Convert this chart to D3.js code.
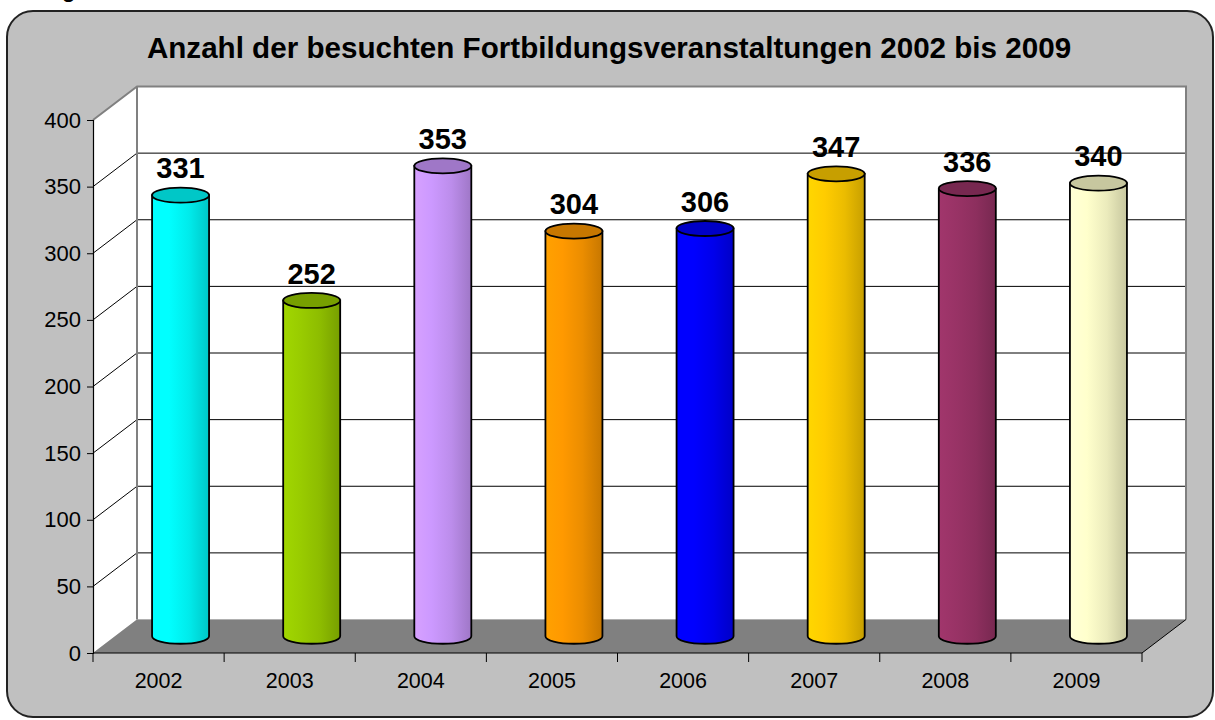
<!DOCTYPE html>
<html><head><meta charset="utf-8">
<script src="https://cdn.jsdelivr.net/npm/d3@7"></script>
<style>html,body{margin:0;padding:0;background:#fff;}svg{display:block;font-family:"Liberation Sans",Arial,sans-serif;}</style>
</head><body>
<svg id="c" width="1215" height="720"></svg>
<script>
const title = "Anzahl der besuchten Fortbildungsveranstaltungen 2002 bis 2009";
const years = ["2002","2003","2004","2005","2006","2007","2008","2009"];
const counts = [331,252,353,304,306,347,336,340];
const yTicks = [0,50,100,150,200,250,300,350,400];
const barColors = ["#00ffff","#99cc00","#cc99ff","#ff9900","#0000ff","#ffcc00","#993366","#ffffcc"];

const svg = d3.select("#c");
const defs = svg.append("defs");

// frame
svg.append("rect").attr("x",7).attr("y",11).attr("width",1206).attr("height",706)
  .attr("rx",26).attr("ry",26).attr("fill","#c0c0c0").attr("stroke","#222").attr("stroke-width",2);
// fragment of text above the frame (cut off in the original too)
svg.append("text").attr("x",62).attr("y",-3).attr("font-size",22).attr("font-weight","bold").text("g");

svg.append("text").attr("x",609).attr("y",58).attr("text-anchor","middle")
  .attr("font-size",29.6).attr("font-weight","bold").attr("fill","#000").text(title);

// geometry
const left = 93, right = 1142;
const depthX = 44, depthY = -33.5;
const y = d3.scaleLinear().domain([0,400]).range([653,120]);
const x = d3.scaleBand().domain(years).range([left,right]).paddingInner(0).paddingOuter(0);

// left wall
svg.append("path").attr("d",`M${left},${y(0)}L${left},${y(400)}L${left+depthX},${y(400)+depthY}L${left+depthX},${y(0)+depthY}Z`)
  .attr("fill","#fff");
// back wall
svg.append("rect").attr("x",left+depthX).attr("y",y(400)+depthY).attr("width",right-left)
  .attr("height",y(0)-y(400)).attr("fill","#fff");
// gridlines
yTicks.filter(t=>t>0 && t<400).forEach(t=>{
  svg.append("path").attr("d",`M${left},${y(t)}L${left+depthX},${y(t)+depthY}L${right+depthX},${y(t)+depthY}`)
    .attr("fill","none").attr("stroke","#000").attr("stroke-width",1);
});
// wall borders
svg.append("path").attr("d",`M${left},${y(400)}L${left+depthX},${y(400)+depthY}L${right+depthX},${y(400)+depthY}L${right+depthX},${y(0)+depthY}`)
  .attr("fill","none").attr("stroke","#808080").attr("stroke-width",2);
svg.append("line").attr("x1",left+depthX).attr("x2",left+depthX).attr("y1",y(400)+depthY).attr("y2",y(0)+depthY)
  .attr("stroke","#808080").attr("stroke-width",2);
// floor
svg.append("path").attr("d",`M${left},${y(0)}L${left+depthX},${y(0)+depthY}L${right+depthX},${y(0)+depthY}L${right},${y(0)}Z`)
  .attr("fill","#808080");
svg.append("line").attr("x1",right).attr("y1",y(0)).attr("x2",right+depthX).attr("y2",y(0)+depthY)
  .attr("stroke","#000").attr("stroke-width",1);

// axes
const yAxis = d3.axisLeft(y).tickValues(yTicks).tickSize(6).tickPadding(6);
const gy = svg.append("g").attr("transform",`translate(${left},0)`).call(yAxis);
gy.select(".domain").attr("stroke","#000").attr("stroke-width",1.2);
gy.selectAll(".tick line").attr("stroke","#000");
gy.selectAll(".tick text").attr("font-size",22).attr("fill","#000").attr("font-family",'"Liberation Sans",Arial,sans-serif');

const xAxis = d3.axisBottom(x).tickSize(0).tickPadding(0);
const gx = svg.append("g").attr("transform",`translate(0,${y(0)})`).call(xAxis);
gx.select(".domain").remove();
gx.selectAll(".tick text").attr("font-size",21.5).attr("fill","#000").attr("dy",0).attr("y",35)
  .attr("font-family",'"Liberation Sans",Arial,sans-serif');
svg.append("line").attr("x1",left).attr("x2",right).attr("y1",y(0)).attr("y2",y(0)).attr("stroke","#000").attr("stroke-width",1.2);
[...years.map(d=>x(d)), right].forEach(b=>{
  svg.append("line").attr("x1",b).attr("x2",b).attr("y1",y(0)).attr("y2",y(0)+9).attr("stroke","#000").attr("stroke-width",1);
});

// cylinders
const rx = 28.5, ry = 7.5;
years.forEach((yr,i)=>{
  const base = d3.color(barColors[i]);
  const dark = d3.rgb(base.r*0.78, base.g*0.78, base.b*0.78);
  const mid = d3.rgb(base.r*0.92, base.g*0.92, base.b*0.92);
  const gid = "g"+i;
  const g = defs.append("linearGradient").attr("id",gid).attr("x1","0").attr("x2","1").attr("y1","0").attr("y2","0");
  g.append("stop").attr("offset","0").attr("stop-color",base.brighter(0.15).formatHex());
  g.append("stop").attr("offset","0.3").attr("stop-color",base.formatHex());
  g.append("stop").attr("offset","0.65").attr("stop-color",mid.formatHex());
  g.append("stop").attr("offset","1").attr("stop-color",dark.formatHex());
  const cx = x(yr) + x.bandwidth()/2 + depthX/2;
  const yb = y(0) + depthY/2;
  const yt = y(counts[i]) + depthY/2;
  svg.append("path")
    .attr("d",`M${cx-rx},${yt}L${cx-rx},${yb}A${rx},${ry} 0 0 0 ${cx+rx},${yb}L${cx+rx},${yt}Z`)
    .attr("fill",`url(#${gid})`).attr("stroke","#000").attr("stroke-width",1.8);
  svg.append("ellipse").attr("cx",cx).attr("cy",yt).attr("rx",rx).attr("ry",ry)
    .attr("fill",dark.formatHex()).attr("stroke","#000").attr("stroke-width",1.8);
  svg.append("text").attr("x",cx).attr("y",y(counts[i])+depthY).attr("text-anchor","middle")
    .attr("font-size",29).attr("font-weight","bold").attr("fill","#000").text(counts[i]);
});
</script>
</body></html>
